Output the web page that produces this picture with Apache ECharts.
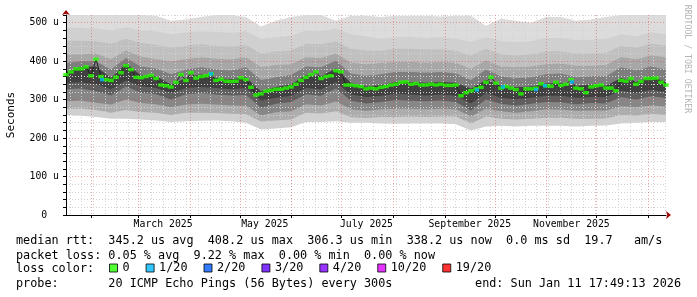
<!DOCTYPE html>
<html><head><meta charset="utf-8">
<script src="https://cdn.jsdelivr.net/npm/echarts@6/dist/echarts.min.js"></script>
<style>html,body{margin:0;padding:0;background:#fff}#c{width:697px;height:297px}</style>
</head><body><div id="c"></div>
<script>
// ---- time frame ----
const endTime = Date.UTC(2026, 0, 11, 17, 49, 13);
const spanDays = 360;
const DAY = 86400000;
const startTime = endTime - spanDays * DAY;

// ---- tick labels ----
const labelDates = ['2025-03-16', '2025-05-16', '2025-07-16', '2025-09-16', '2025-11-16'];
const labelTexts = ['March 2025', 'May 2025', 'July 2025', 'September 2025', 'November 2025'];
const yTickValues = [0, 100, 200, 300, 400, 500];
const yTickLabels = ['0  ', '100 u', '200 u', '300 u', '400 u', '500 u'];

// ---- median rtt (us), one value every 3 days ----
const medianStepDays = 3;
const median = [365,372,380,380,385,362,405,360,352,350,358,370,388,378,358,357,360,363,355,338,
  336,333,345,365,350,370,356,360,362,367,350,353,348,347,348,357,352,332,312,315,
  322,324,327,327,330,333,340,350,358,365,372,355,360,362,375,372,338,338,336,334,
  328,330,328,332,334,338,340,345,346,340,342,338,338,340,338,340,337,337,338,310,
  318,323,328,332,345,358,343,330,334,330,326,315,328,328,330,341,336,335,345,337,
  340,352,330,328,318,333,336,338,330,330,323,350,348,355,340,347,355,355,356,345,338];

// ---- samples with 1/20 packet loss ----
const lossDays = [21.6, 87, 246.6, 262.2, 282, 287.4, 303.6];
const lossValues = [352, 367, 325, 333, 326, 336, 346];

// ---- smoke (ping distribution levels, us), one column every 9 days ----
const smokeStepDays = 9;
const smokeMax  = [520,520,520,520,520,520,518,505,508,515,520,520,515,490,505,515,520,520,505,518,518,515,518,518,518,516,518,518,492,510,505,500,515,515,505,508,515,520,520,520,520];
const smokeU4   = [487,487,485,480,488,480,478,470,475,478,476,474,478,458,462,466,480,478,485,470,465,458,462,463,460,462,458,450,462,452,450,452,460,460,455,455,458,470,465,475,470];
const smokeU3   = [453,453,452,445,458,447,442,435,440,444,440,438,442,420,425,428,445,443,452,432,428,427,432,432,430,431,427,415,432,418,415,418,425,426,420,420,422,440,435,445,440];
const smokeU2   = [417,418,420,405,428,412,405,400,405,410,406,404,410,385,390,392,410,408,420,396,392,395,398,398,396,398,395,380,402,386,384,386,392,394,388,388,390,410,405,415,410];
const smokeU1   = [395,400,400,378,408,386,381,366,378,384,378,376,384,351,358,364,386,384,401,368,362,366,372,372,370,372,368,351,378,360,356,358,366,368,358,361,361,384,376,386,378];
const smokeCore = [371,386,386,356,394,363,361,339,356,366,356,353,358,321,333,339,364,361,381,344,334,338,346,346,344,346,344,329,351,336,332,334,342,343,336,339,336,356,346,361,346];
const smokeL1   = [343,345,340,327,350,335,330,317,330,333,330,327,330,297,305,310,330,327,345,313,307,310,315,313,311,313,310,290,317,305,301,305,310,310,305,307,307,323,317,325,320];
const smokeL2   = [327,329,322,311,334,318,314,300,314,317,313,311,312,279,289,294,314,310,329,297,290,294,299,297,296,298,294,272,300,289,284,289,294,293,288,291,290,307,300,309,304];
const smokeL3   = [296,297,292,287,300,291,288,280,287,289,287,285,284,259,267,270,288,285,295,275,271,275,276,276,275,276,275,256,277,270,266,270,275,274,271,272,272,283,280,285,282];
const smokeL4   = [276,276,273,266,273,268,266,260,266,266,265,263,262,243,246,248,266,264,270,254,252,255,255,256,255,256,256,238,256,250,248,250,253,253,250,250,251,260,258,263,260];
const smokeMin  = [260,258,255,250,250,248,246,242,244,245,246,244,240,222,225,228,242,242,244,240,240,238,237,238,238,238,236,220,230,232,230,232,232,232,230,232,233,238,240,242,242];

// ---- legend ----
const lossNames  = ['0', '1/20', '2/20', '3/20', '4/20', '10/20', '19/20'];
const lossColors = ['#26ff00', '#00b8ff', '#0059ff', '#5e00ff', '#7e00ff', '#dd00ff', '#ff0000'];
const row1 = 'median rtt:  345.2 us avg  408.2 us max  306.3 us min  338.2 us now  0.0 ms sd  19.7   am/s';
const row2 = 'packet loss: 0.05 % avg  9.22 % max  0.00 % min  0.00 % now';
const row3 = 'loss color:';
const row4 = 'probe:       20 ICMP Echo Pings (56 Bytes) every 300s';
const row4end = 'end: Sun Jan 11 17:49:13 2026';
const watermark = 'RRDTOOL / TOBI OETIKER';

// ---- derived helpers ----
const MONO = 'DejaVu Sans Mono';
const monthStarts = [];
for (let m = 1; m <= 12; m++) monthStarts.push(Date.UTC(2025, m, 1));
const weekStarts = [];
for (let t = Date.UTC(2025, 0, 19); t < endTime; t += 7 * DAY) weekStarts.push(t);
const labelTimes = labelDates.map(d => Date.parse(d + 'T00:00:00Z'));

const toSeries = (arr, step) => arr.map((v, i) => [startTime + i * step * DAY, v]);

// each level is filled down to the axis with the shade of the band above it
const bands = [
  [smokeMax, '#dcdcdc'], [smokeU4, '#d0d0d0'], [smokeU3, '#c0c0c0'], [smokeU2, '#a7a7a7'],
  [smokeU1, '#7e7e7e'], [smokeCore, '#404040'], [smokeL1, '#5f5f5f'], [smokeL2, '#878787'],
  [smokeL3, '#adadad'], [smokeL4, '#d0d0d0'], [smokeMin, '#ffffff']
];
const series = bands.map(([arr, col]) => ({
  type: 'line', data: toSeries(arr, smokeStepDays), showSymbol: false, silent: true,
  lineStyle: { width: 0 }, areaStyle: { color: col, opacity: 1 }, z: 1,
  xAxisIndex: 0, yAxisIndex: 0
}));
series.push({
  type: 'line', data: toSeries(median, medianStepDays), showSymbol: false, silent: true,
  lineStyle: { color: '#202020', width: 1 }, z: 4, xAxisIndex: 0, yAxisIndex: 0
});
series.push({
  name: lossNames[0], type: 'scatter', data: toSeries(median, medianStepDays),
  symbol: 'rect', symbolSize: [5.6, 3.5], itemStyle: { color: lossColors[0] }, z: 5, silent: true
});
series.push({
  name: lossNames[1], type: 'scatter',
  data: lossDays.map((d, i) => [startTime + d * DAY, lossValues[i]]),
  symbol: 'rect', symbolSize: [4, 3.5], itemStyle: { color: lossColors[1] }, z: 6, silent: true
});
for (let k = 2; k < lossNames.length; k++) {
  series.push({ name: lossNames[k], type: 'scatter', data: [], itemStyle: { color: lossColors[k] } });
}

const dotted = [1, 2];
const chart = echarts.init(document.getElementById('c'), null, { renderer: 'canvas' });
chart.setOption({
  animation: false,
  grid: { left: 66, top: 15, width: 600, height: 200, containLabel: false, outerBoundsMode: 'none' },
  xAxis: [
    {
      type: 'value', min: startTime, max: endTime, position: 'bottom', z: 3,
      axisLine: { show: true, lineStyle: { color: '#000', width: 1 } },
      axisTick: { show: true, length: 3, customValues: monthStarts, lineStyle: { color: '#000' } },
      axisLabel: {
        customValues: labelTimes, margin: 4, color: '#000', fontFamily: MONO, fontSize: 9.8,
        hideOverlap: false,
        formatter: v => { const i = labelTimes.indexOf(v); return i >= 0 ? labelTexts[i] : ''; }
      },
      splitLine: { show: true, lineStyle: { color: 'rgba(222,60,60,0.45)', type: dotted, width: 1 } }
    },
    {
      type: 'value', min: startTime, max: endTime, position: 'top', z: 2,
      axisLine: { show: false }, axisLabel: { show: false },
      axisTick: { show: false, customValues: weekStarts },
      splitLine: { show: true, lineStyle: { color: '#d2d2d2', type: dotted, width: 1 } }
    },
    {
      type: 'value', min: 0, max: 1, position: 'bottom', z: 3,
      axisLine: { show: true, symbol: ['none', 'arrow'], symbolSize: [6, 5], symbolOffset: [0, 5],
        lineStyle: { color: '#a00000', width: 0 } },
      axisTick: { show: false }, axisLabel: { show: false }, splitLine: { show: false }
    }
  ],
  yAxis: [
    {
      type: 'value', min: 0, max: 520, interval: 20, z: 2,
      name: 'Seconds', nameLocation: 'middle', nameGap: 49,
      nameTextStyle: { color: '#000', fontFamily: MONO, fontSize: 11 },
      axisLine: { show: true, lineStyle: { color: '#000', width: 1 } },
      axisTick: { show: true, length: 3, lineStyle: { color: '#000' } },
      axisLabel: {
        margin: 7, color: '#000', fontFamily: MONO, fontSize: 9.8,
        formatter: v => { const i = yTickValues.indexOf(v); return i >= 0 ? yTickLabels[i] : ''; }
      },
      splitLine: { show: true, lineStyle: {
        color: ['rgba(222,60,60,0.45)', '#d2d2d2', '#d2d2d2', '#d2d2d2', '#d2d2d2'], type: dotted, width: 1 } }
    },
    {
      type: 'value', min: 0, max: 1, position: 'left', z: 3,
      axisLine: { show: true, symbol: ['none', 'arrow'], symbolSize: [6, 5], symbolOffset: [0, 5],
        lineStyle: { color: '#a00000', width: 0 } },
      axisTick: { show: false }, axisLabel: { show: false }, splitLine: { show: false }
    }
  ],
  legend: {
    data: lossNames, left: 109, top: 262, icon: 'rect', itemWidth: 8, itemHeight: 8, itemGap: 16,
    selectedMode: false, padding: 0,
    itemStyle: { borderColor: '#000', borderWidth: 1 },
    textStyle: { color: '#000', fontFamily: MONO, fontSize: 11.8 }
  },
  graphic: [
    { type: 'text', x: 16, y: 241, style: { text: row1, fill: '#000', font: '11.8px "' + MONO + '"', verticalAlign: 'middle' } },
    { type: 'text', x: 16, y: 255.5, style: { text: row2, fill: '#000', font: '11.8px "' + MONO + '"', verticalAlign: 'middle' } },
    { type: 'text', x: 16, y: 269, style: { text: row3, fill: '#000', font: '11.8px "' + MONO + '"', verticalAlign: 'middle' } },
    { type: 'text', x: 16, y: 283.5, style: { text: row4, fill: '#000', font: '11.8px "' + MONO + '"', verticalAlign: 'middle' } },
    { type: 'text', x: 681, y: 283.5, style: { text: row4end, fill: '#000', font: '11.8px "' + MONO + '"', align: 'right', verticalAlign: 'middle' } },
    { type: 'text', x: 687, y: 59, rotation: -Math.PI / 2,
      style: { text: watermark, fill: '#b4b4b4', font: '8.2px "' + MONO + '"', align: 'center', verticalAlign: 'middle' } }
  ],
  series: series
});
</script>
</body></html>
